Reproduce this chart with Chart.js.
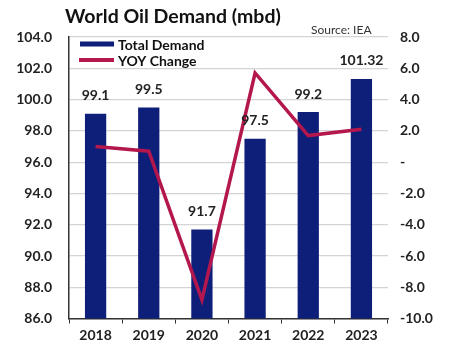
<!DOCTYPE html>
<html>
<head>
<meta charset="utf-8">
<script src="https://cdn.jsdelivr.net/npm/chart.js@4"></script>
<style>
  html, body { margin: 0; padding: 0; background: #fff; }
  #wrap { width: 450px; height: 344px; position: relative; }
</style>
</head>
<body>
<div id="wrap"><canvas id="c" width="450" height="344"></canvas></div>
<script>
const categories = ['2018', '2019', '2020', '2021', '2022', '2023'];
const totalDemand = [99.1, 99.5, 91.7, 97.5, 99.2, 101.32];
const demandLabels = ['99.1', '99.5', '91.7', '97.5', '99.2', '101.32'];
const yoyChange = [1.0, 0.7, -8.8, 5.7, 1.7, 2.1];
const leftTicks = [86, 88, 90, 92, 94, 96, 98, 100, 102, 104];
const rightTicks = [-10, -8, -6, -4, -2, 0, 2, 4, 6, 8];
const titleText = 'World Oil Demand (mbd)';
const sourceText = 'Source: IEA';

const NAVY = '#0d1f78';
const CRIMSON = '#b3174e';
const FONT = 'Lato, "Open Sans", sans-serif';

const overlay = {
  id: 'overlay',
  afterDatasetsDraw(chart) {
    const ctx = chart.ctx;
    ctx.save();
    const meta = chart.getDatasetMeta(0);
    ctx.fillStyle = '#222';
    ctx.font = 'bold 14px ' + FONT;
    ctx.textAlign = 'center';
    ctx.textBaseline = 'middle';
    meta.data.forEach((bar, i) => {
      ctx.fillText(demandLabels[i], bar.x, bar.y - 18);
    });
    const lx = 80, ly1 = 44, ly2 = 60;
    ctx.fillStyle = NAVY;
    ctx.fillRect(lx, ly1 - 2.5, 34, 5);
    ctx.fillStyle = CRIMSON;
    ctx.fillRect(lx - 1, ly2 - 2, 35, 4);
    ctx.fillStyle = '#111';
    ctx.font = 'bold 14px ' + FONT;
    ctx.textAlign = 'left';
    ctx.fillText(chart.data.datasets[0].label, 118, ly1 + 1);
    ctx.fillText(chart.data.datasets[1].label, 118, ly2 + 1);
    ctx.font = 'bold 19.5px ' + FONT;
    ctx.fillStyle = '#111';
    ctx.textBaseline = 'alphabetic';
    ctx.fillText(titleText, 65, 23);
    ctx.font = '12px ' + FONT;
    ctx.fillStyle = '#333';
    ctx.fillText(sourceText, 311, 34);
    ctx.restore();
  }
};

new Chart(document.getElementById('c'), {
  data: {
    labels: categories,
    datasets: [
      {
        type: 'bar',
        label: 'Total Demand',
        data: totalDemand,
        backgroundColor: NAVY,
        yAxisID: 'y',
        barPercentage: 0.4,
        categoryPercentage: 1.0,
        order: 2
      },
      {
        type: 'line',
        label: 'YOY Change',
        data: yoyChange,
        borderColor: CRIMSON,
        backgroundColor: CRIMSON,
        borderWidth: 3.5,
        pointRadius: 0,
        tension: 0,
        yAxisID: 'y2',
        order: 1
      }
    ]
  },
  options: {
    responsive: false,
    animation: false,
    devicePixelRatio: 1,
    layout: { padding: { top: 37, left: 0, right: 0, bottom: 0 } },
    plugins: {
      legend: { display: false },
      title: { display: false },
      tooltip: { enabled: false }
    },
    scales: {
      x: {
        offset: true,
        grid: {
          offset: true,
          drawOnChartArea: false,
          drawTicks: true,
          tickLength: 5,
          color: '#333'
        },
        border: { display: true, color: '#333', width: 1.5 },
        ticks: {
          color: '#222',
          font: { family: FONT, size: 14, weight: 'bold' },
          padding: 3,
          maxRotation: 0
        },
        afterFit(s) { s.height = 25; }
      },
      y: {
        position: 'left',
        min: 86,
        max: 104,
        afterBuildTicks(s) { s.ticks = leftTicks.map(v => ({ value: v })); },
        grid: { color: '#d4d4d4', lineWidth: 1.3, drawTicks: false },
        border: { display: true, color: '#333', width: 1.5 },
        ticks: {
          color: '#222',
          font: { family: FONT, size: 14, weight: 'bold' },
          padding: 17,
          callback: v => Number(v).toFixed(1)
        },
        afterFit(s) { s.width = 69; }
      },
      y2: {
        position: 'right',
        min: -10,
        max: 8,
        afterBuildTicks(s) { s.ticks = rightTicks.map(v => ({ value: v })); },
        grid: { drawOnChartArea: false, drawTicks: false },
        border: { display: false },
        ticks: {
          color: '#222',
          font: { family: FONT, size: 14, weight: 'bold' },
          padding: 12,
          crossAlign: 'near',
          callback: v => v === 0 ? '-' : Number(v).toFixed(1)
        },
        afterFit(s) { s.width = 62; }
      }
    }
  },
  plugins: [overlay]
});
</script>
</body>
</html>
